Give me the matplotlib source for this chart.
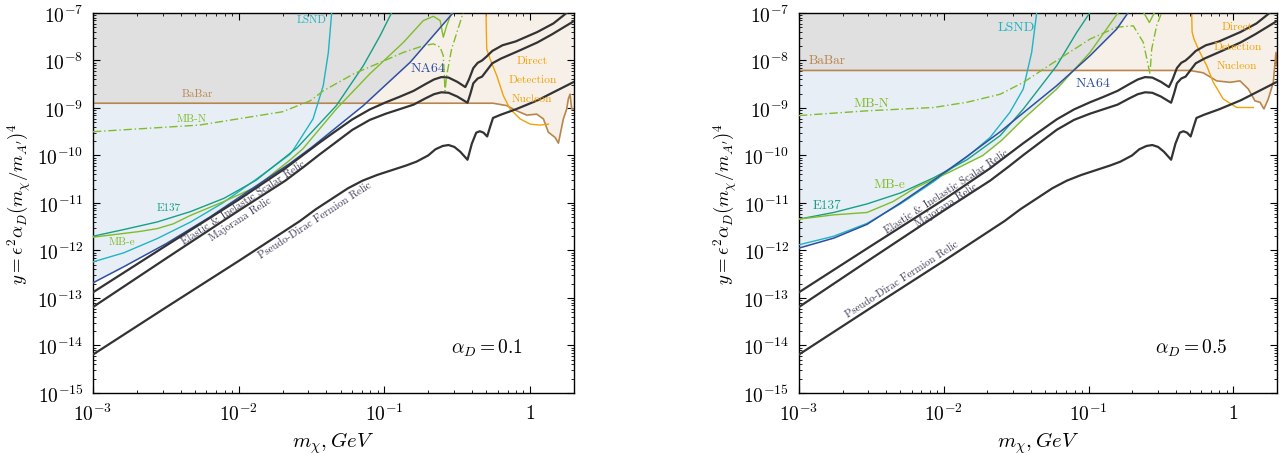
import numpy as np
import matplotlib.pyplot as plt
from matplotlib.ticker import LogLocator, FixedLocator, FuncFormatter, NullFormatter

plt.rcParams['mathtext.fontset'] = 'cm'
plt.rcParams['axes.formatter.use_mathtext'] = True

# every value is log10(m_chi / GeV) and log10(y)

# relic targets, same in both panels
scalar_lm = [-3.0, -2.5, -2.0, -1.68, -1.55, -1.45, -1.35, -1.22, -1.10, -0.99, -0.90, -0.80, -0.72, -0.66, -0.61,
             -0.56, -0.50, -0.445, -0.42, -0.39, -0.36, -0.33, -0.30, -0.26, -0.19, -0.10, 0.05, 0.16, 0.25]
scalar_ly = [-12.88, -11.90, -10.93, -10.27, -9.97, -9.74, -9.52, -9.24, -9.03, -8.88, -8.77, -8.64, -8.50, -8.40, -8.35,
             -8.36, -8.45, -8.56, -8.40, -8.16, -8.05, -8.00, -7.92, -7.80, -7.68, -7.60, -7.40, -7.22, -7.00]
major_lm = [-3.0, -2.5, -2.0, -1.68, -1.55, -1.45, -1.35, -1.22, -1.10, -0.99, -0.90, -0.80, -0.72, -0.66, -0.61,
            -0.56, -0.50, -0.43, -0.41, -0.39, -0.36, -0.33, -0.30, -0.26, -0.20, -0.08, 0.05, 0.15, 0.301]
major_ly = [-13.19, -12.17, -11.16, -10.53, -10.23, -9.99, -9.76, -9.46, -9.25, -9.12, -9.03, -8.93, -8.80, -8.71, -8.67,
            -8.68, -8.76, -8.89, -8.70, -8.48, -8.38, -8.34, -8.22, -8.06, -7.96, -7.80, -7.62, -7.45, -7.17]
pdirac_lm = [-3.0, -2.5, -2.0, -1.58, -1.47, -1.35, -1.25, -1.15, -1.05, -0.95, -0.85, -0.78, -0.70, -0.65, -0.60,
             -0.56, -0.52, -0.48, -0.43, -0.40, -0.37, -0.345, -0.32, -0.295, -0.275, -0.255, -0.20, -0.10, 0.05, 0.301]
pdirac_ly = [-14.19, -13.20, -12.22, -11.38, -11.13, -10.89, -10.69, -10.53, -10.41, -10.31, -10.21, -10.13, -10.00, -9.87, -9.80,
             -9.78, -9.82, -9.92, -10.09, -9.75, -9.52, -9.49, -9.52, -9.60, -9.40, -9.21, -9.14, -9.03, -8.84, -8.45]

# alpha_D = 0.1
lsnd_a_lm = [-3.0, -2.79, -2.56, -2.33, -2.11, -1.88, -1.65, -1.625, -1.49, -1.42, -1.385, -1.362]
lsnd_a_ly = [-12.24, -12.05, -11.75, -11.40, -11.00, -10.50, -9.98, -9.88, -9.23, -8.53, -7.83, -6.99]
e137_a_lm = [-3.0, -2.79, -2.56, -2.33, -2.10, -1.88, -1.65, -1.60, -1.33, -1.145, -1.03, -0.95]
e137_a_ly = [-11.70, -11.56, -11.40, -11.18, -10.90, -10.52, -9.96, -9.84, -8.95, -8.11, -7.48, -6.99]
mbe_a_lm = [-3.0, -2.68, -2.56, -2.45, -2.33, -2.11, -1.88, -1.65, -1.56, -1.33, -1.10, -0.87, -0.733, -0.664, -0.618, -0.596, -0.573, -0.539]
mbe_a_ly = [-11.72, -11.60, -11.54, -11.44, -11.26, -10.98, -10.66, -10.10, -9.86, -9.02, -8.28, -7.62, -7.16, -7.07, -7.16, -7.51, -7.27, -6.99]
mbn_a_lm = [-3.0, -2.27, -1.70, -1.51, -1.42, -1.21, -1.05, -0.87, -0.733, -0.664, -0.618, -0.596, -0.584, -0.573, -0.539, -0.481, -0.46]
mbn_a_ly = [-9.50, -9.36, -9.08, -8.85, -8.64, -8.28, -8.07, -7.83, -7.69, -7.65, -7.72, -7.90, -8.64, -8.32, -7.76, -7.20, -6.99]
na64_a_lm = [-3.0, -2.8, -2.5, -2.2, -1.9, -1.65, -1.5, -1.145, -0.824, -0.527]
na64_a_ly = [-12.68, -12.36, -11.86, -11.30, -10.68, -10.17, -9.83, -8.95, -8.04, -6.99]
babar_a_lm = [-3.0, -0.255, -0.161, -0.092, -0.023, 0.045, 0.091, 0.125, 0.171, 0.194, 0.228, 0.251, 0.262, 0.274, 0.285, 0.301]
babar_a_ly = [-8.90, -8.90, -8.95, -9.06, -9.15, -9.13, -9.23, -9.51, -9.62, -9.74, -9.23, -9.02, -8.81, -8.71, -9.02, -9.02]
dd_a_lm = [-0.303, -0.298, -0.275, -0.229, -0.184, -0.138, -0.069, 0.0, 0.068, 0.125]
dd_a_ly = [-6.99, -7.76, -7.97, -8.32, -8.74, -9.02, -9.23, -9.34, -9.36, -9.34]

# alpha_D = 0.5
lsnd_b_lm = [-3.0, -2.76, -2.53, -2.30, -2.07, -1.84, -1.68, -1.543, -1.451, -1.393, -1.358]
lsnd_b_ly = [-11.88, -11.70, -11.43, -11.02, -10.55, -10.03, -9.62, -9.09, -8.60, -7.83, -6.99]
e137_b_lm = [-3.0, -2.76, -2.53, -2.30, -2.07, -1.84, -1.61, -1.45, -1.22, -1.082, -0.99]
e137_b_ly = [-11.34, -11.20, -11.02, -10.79, -10.47, -10.09, -9.58, -9.02, -8.11, -7.41, -6.99]
mbe_b_lm = [-3.0, -2.76, -2.53, -2.35, -2.19, -1.96, -1.73, -1.60, -1.45, -1.22, -0.99, -0.795]
mbe_b_ly = [-11.34, -11.25, -11.20, -10.97, -10.67, -10.35, -10.00, -9.68, -9.23, -8.60, -7.83, -6.99]
mbe_b_cusp_lm = [-0.62, -0.58, -0.545]
mbe_b_cusp_ly = [-6.99, -7.20, -6.99]
mbn_b_lm = [-3.0, -2.53, -2.07, -1.84, -1.61, -1.45, -1.22, -0.99, -0.806, -0.691, -0.622, -0.576, -0.564, -0.53, -0.495]
mbn_b_ly = [-9.16, -9.06, -8.99, -8.88, -8.71, -8.46, -8.00, -7.55, -7.30, -7.27, -7.62, -8.28, -7.76, -7.27, -6.99]
na64_b_lm = [-3.0, -2.76, -2.53, -2.30, -2.07, -1.84, -1.61, -1.45, -1.22, -0.99, -0.806, -0.726]
na64_b_ly = [-11.95, -11.74, -11.45, -11.00, -10.52, -10.02, -9.50, -9.10, -8.53, -7.90, -7.34, -6.99]
babar_b_lm = [-3.0, -0.30, -0.208, -0.115, -0.023, 0.046, 0.103, 0.149, 0.184, 0.211, 0.241, 0.276, 0.294, 0.301]
babar_b_ly = [-8.21, -8.21, -8.26, -8.43, -8.46, -8.43, -8.60, -8.85, -8.88, -9.02, -8.81, -8.46, -7.83, -8.11]
dd_b_lm = [-0.288, -0.285, -0.272, -0.231, -0.184, -0.139, -0.07, 0.023, 0.138]
dd_b_ly = [-6.99, -7.40, -7.55, -7.83, -8.11, -8.46, -8.81, -8.99, -8.99]

C_GREY = '#e0e0e0'
C_BLUEFILL = '#e8eef6'
C_PEACH = '#f7f0e8'
C_BABAR = '#b8864c'
C_LSND = '#1fb4c4'
C_E137 = '#16a085'
C_MB = '#80bc2a'
C_NA64 = '#2f4fa0'
C_DD = '#f0a30a'
C_RELIC = '#333333'
C_RTXT = '#3c3c58'

TXT = dict(family='cmr10')


def curve(ax, lm, ly, **kw):
    ax.plot(10 ** np.array(lm), 10 ** np.array(ly), **kw)


def log_label(v, pos):
    e = int(round(np.log10(v)))
    return '$1$' if e == 0 else r'$10^{%d}$' % e


def panel(ax, lsnd, e137, mbe, mbn, na64, babar, dd, alpha_txt):
    g = np.linspace(-3, np.log10(2), 800)
    bab = np.interp(g, *babar)
    na = np.minimum(np.interp(g, *na64), -7)
    low = np.min([np.interp(g, *c) for c in (lsnd, e137, mbe, na64)], axis=0)
    x = 10 ** g
    ax.fill_between(x, 10 ** np.maximum(bab, na), 1e-7, color=C_GREY, lw=0, zorder=0)
    ax.fill_between(x, 10 ** bab, 10 ** na, where=na > bab, color=C_PEACH, lw=0, zorder=0)
    ax.fill_between(x, 10 ** low, 10 ** bab, where=low < bab, color=C_BLUEFILL, lw=0, zorder=0)

    curve(ax, *babar, color=C_BABAR, lw=1.2, zorder=2)
    curve(ax, *dd, color=C_DD, lw=1.0, zorder=2)
    curve(ax, *lsnd, color=C_LSND, lw=1.0, zorder=3)
    curve(ax, *e137, color=C_E137, lw=1.0, zorder=3)
    curve(ax, *mbe, color=C_MB, lw=1.0, zorder=3)
    curve(ax, *mbn, color=C_MB, lw=1.0, ls=(0, (6, 2, 1, 2)), zorder=3)
    curve(ax, *na64, color=C_NA64, lw=1.1, zorder=4)
    for lm, ly in ((scalar_lm, scalar_ly), (major_lm, major_ly), (pdirac_lm, pdirac_ly)):
        curve(ax, lm, ly, color=C_RELIC, lw=1.6, zorder=5)

    ax.set_xscale('log')
    ax.set_yscale('log')
    ax.set_xlim(1e-3, 2)
    ax.set_ylim(1e-15, 1e-7)
    ax.xaxis.set_major_locator(FixedLocator([1e-3, 1e-2, 1e-1, 1]))
    ax.xaxis.set_major_formatter(FuncFormatter(log_label))
    ax.xaxis.set_minor_locator(LogLocator(base=10, subs=np.arange(2, 10), numticks=100))
    ax.xaxis.set_minor_formatter(NullFormatter())
    ax.yaxis.set_major_locator(FixedLocator([10.0 ** k for k in range(-15, -6)]))
    ax.yaxis.set_major_formatter(FuncFormatter(log_label))
    ax.yaxis.set_minor_locator(LogLocator(base=10, subs=np.arange(2, 10), numticks=100))
    ax.yaxis.set_minor_formatter(NullFormatter())
    ax.tick_params(which='both', direction='in', top=True, right=True, labelsize=14, pad=7)
    ax.tick_params(which='major', length=5, width=0.8)
    ax.tick_params(which='minor', length=2.5, width=0.6)
    for s in ax.spines.values():
        s.set_linewidth(1.0)
    ax.set_xlabel(r'$m_\chi, GeV$', fontsize=15, labelpad=4)
    ax.set_ylabel(r"$y = \epsilon^2\alpha_D(m_\chi/m_{A'})^4$", fontsize=13.5, labelpad=3)
    ax.text(0.82, 0.12, alpha_txt, transform=ax.transAxes, fontsize=14, ha='center', va='center')


fig = plt.figure(figsize=(12.87, 4.64), dpi=100)
ax1 = fig.add_axes([0.0723, 0.1509, 0.3737, 0.819])
ax2 = fig.add_axes([0.6208, 0.1509, 0.3714, 0.819])

panel(ax1, (lsnd_a_lm, lsnd_a_ly), (e137_a_lm, e137_a_ly), (mbe_a_lm, mbe_a_ly),
      (mbn_a_lm, mbn_a_ly), (na64_a_lm, na64_a_ly), (babar_a_lm, babar_a_ly),
      (dd_a_lm, dd_a_ly), r'$\alpha_D = 0.1$')
panel(ax2, (lsnd_b_lm, lsnd_b_ly), (e137_b_lm, e137_b_ly), (mbe_b_lm, mbe_b_ly),
      (mbn_b_lm, mbn_b_ly), (na64_b_lm, na64_b_ly), (babar_b_lm, babar_b_ly),
      (dd_b_lm, dd_b_ly), r'$\alpha_D = 0.5$')
curve(ax2, mbe_b_cusp_lm, mbe_b_cusp_ly, color=C_MB, lw=1.0, zorder=3)


def lab(ax, lm, ly, s, c, size, rot=0):
    ax.text(10 ** lm, 10 ** ly, s, color=c, fontsize=size, ha='center', va='center',
            rotation=rot, rotation_mode='anchor', zorder=6, **TXT)


# left panel labels
lab(ax1, -1.497, -7.14, 'LSND', C_LSND, 8)
lab(ax1, -2.286, -8.69, 'BaBar', C_BABAR, 8)
lab(ax1, -2.32, -9.21, 'MB-N', C_MB, 8)
lab(ax1, -2.478, -11.10, 'E137', C_E137, 8)
lab(ax1, -2.803, -11.81, 'MB-e', C_MB, 8)
lab(ax1, -0.699, -8.16, 'NA64', C_NA64, 10)
lab(ax1, 0.015, -7.99, 'Direct', C_DD, 8.3)
lab(ax1, 0.015, -8.40, 'Detection', C_DD, 8.3)
lab(ax1, 0.015, -8.80, 'Nucleon', C_DD, 8.3)
lab(ax1, -1.964, -10.98, 'Elastic & Inelastic Scalar Relic', C_RTXT, 7.8, 33)
lab(ax1, -1.986, -11.32, 'Majorana Relic', C_RTXT, 7.8, 33)
lab(ax1, -1.476, -11.35, 'Pseudo-Dirac Fermion Relic', C_RTXT, 7.8, 33)

# right panel labels
lab(ax2, -1.497, -7.29, 'LSND', C_LSND, 10)
lab(ax2, -2.809, -7.99, 'BaBar', C_BABAR, 9.5)
lab(ax2, -2.503, -8.89, 'MB-N', C_MB, 9.5)
lab(ax2, -2.809, -11.04, 'E137', C_E137, 9.5)
lab(ax2, -2.376, -10.60, 'MB-e', C_MB, 9.5)
lab(ax2, -0.972, -8.48, 'NA64', C_NA64, 10)
lab(ax2, 0.027, -7.29, 'Direct', C_DD, 8.3)
lab(ax2, 0.027, -7.71, 'Detection', C_DD, 8.3)
lab(ax2, 0.027, -8.11, 'Nucleon', C_DD, 8.3)
lab(ax2, -1.98, -10.74, 'Elastic & Inelastic Scalar Relic', C_RTXT, 7.8, 33)
lab(ax2, -1.98, -11.03, 'Majorana Relic', C_RTXT, 7.8, 33)
lab(ax2, -2.287, -12.60, 'Pseudo-Dirac Fermion Relic', C_RTXT, 7.8, 33)

fig.savefig('out.png', dpi=100)
